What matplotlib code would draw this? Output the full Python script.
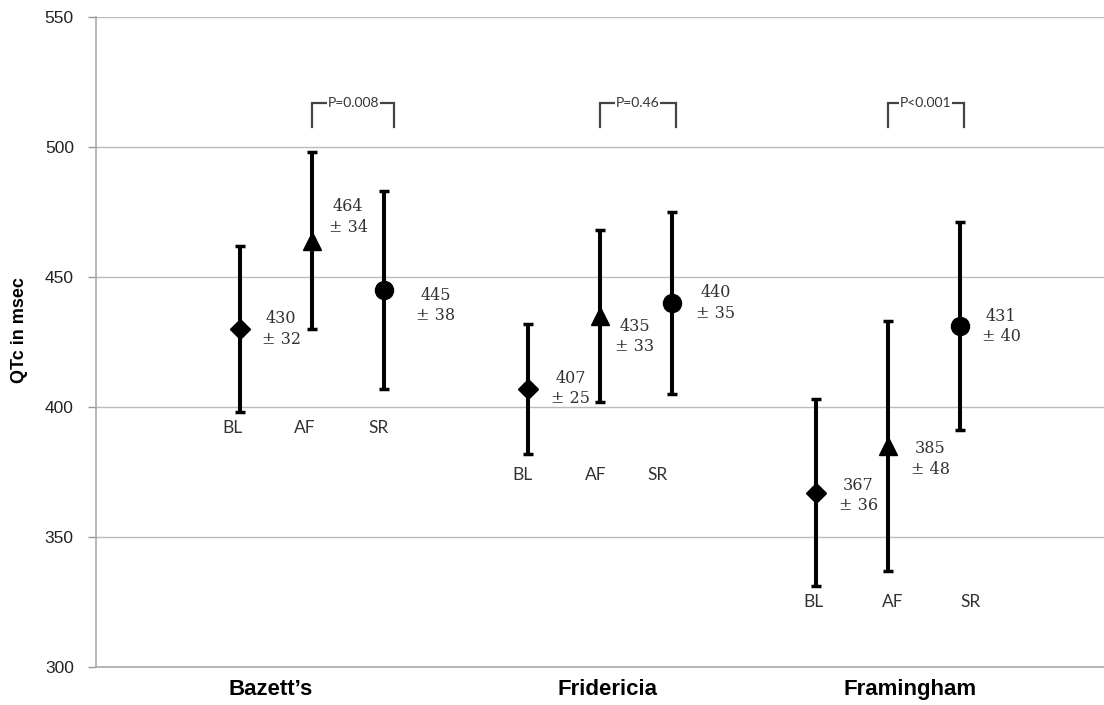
import matplotlib
matplotlib.use("Agg")
import matplotlib.pyplot as plt

# ---- data ----
formulas = ["Bazett\u2019s", "Fridericia", "Framingham"]
states = ["BL", "AF", "SR"]
means = {
    "Bazett\u2019s": [430, 464, 445],
    "Fridericia": [407, 435, 440],
    "Framingham": [367, 385, 431],
}
sds = {
    "Bazett\u2019s": [32, 34, 38],
    "Fridericia": [25, 33, 35],
    "Framingham": [36, 48, 40],
}
p_values = ["P=0.008", "P=0.46", "P<0.001"]
yticks = [300, 350, 400, 450, 500, 550]

# ---- layout ----
markers = ["D", "^", "o"]
marker_sizes = [10, 13, 13]
group_x0 = [2, 6, 10]
state_label_y = [392, 374, 325]
state_label_dx = [[-0.1, -0.1, -0.08], [-0.08, -0.06, -0.2], [-0.04, 0.06, 0.14]]
value_dx = [[0.3, 0.23, 0.45], [0.32, 0.21, 0.33], [0.32, 0.32, 0.3]]
value_dy = [[0, 9, -6], [0, -8, 0], [-1, -5, 0]]
cat_label_x = [2.43, 7.1, 11.3]
bracket_pairs = [(1, 2), (1, 2), (1, 2)]
bracket_right_extra = [0.14, 0.05, 0.05]

fig = plt.figure(figsize=(11.04, 7.05), dpi=100)
ax = fig.add_axes([0.087, 0.054, 0.913, 0.922])
ax.set_xlim(0, 14)
ax.set_ylim(300, 550)
ax.set_yticks(yticks)
ax.set_yticklabels([str(t) for t in yticks], fontsize=12.5, color="#222222",
                   family="Liberation Sans")
ax.set_xticks([])
ax.tick_params(axis="y", length=6, color="#999999", width=1, pad=10)
for s in ["top", "right"]:
    ax.spines[s].set_visible(False)
for s in ["left", "bottom"]:
    ax.spines[s].set_color("#aaaaaa")
    ax.spines[s].set_linewidth(1.2)
ax.grid(axis="y", color="#bbbbbb", linewidth=1)
ax.set_axisbelow(True)

for g, f in enumerate(formulas):
    for i, st in enumerate(states):
        x = group_x0[g] + i
        m = means[f][i]
        sd = sds[f][i]
        ax.errorbar([x], [m], yerr=[sd], fmt=markers[i], color="black",
                    ms=marker_sizes[i], elinewidth=2.9, capsize=3.5,
                    capthick=2.5, zorder=3)
        ax.text(x + value_dx[g][i], m + value_dy[g][i], f"{m}\n\u00b1 {sd}",
                ha="left", va="center", multialignment="center",
                fontsize=11.5, family="DejaVu Serif", color="#333333",
                linespacing=1.25)
        ax.text(x + state_label_dx[g][i], state_label_y[g], st,
                ha="center", va="center", fontsize=12.5, family="Lato",
                color="#333333")
    # p-value bracket
    a, b = bracket_pairs[g]
    xl = group_x0[g] + a
    xr = group_x0[g] + b + bracket_right_extra[g]
    ytop, ybot = 517, 507.5
    xc = (xl + xr) / 2
    ax.text(xc, ytop, p_values[g], ha="center", va="center", fontsize=10,
            family="Lato", color="#333333",
            bbox=dict(facecolor="white", edgecolor="none", pad=0.5), zorder=5)
    ax.plot([xl, xl, xr, xr], [ybot, ytop, ytop, ybot], color="#444444",
            lw=1.6, zorder=4, solid_joinstyle="miter")
    ax.text(cat_label_x[g], 291.5, f, ha="center", va="center", fontsize=16,
            fontweight="bold", family="Liberation Sans", color="black",
            clip_on=False)

fig.text(0.018, 1 - 330 / 705, "QTc in msec", rotation=90, ha="center",
         va="center", fontsize=13, fontweight="bold", family="Liberation Sans")

fig.savefig("out.png", dpi=100)
